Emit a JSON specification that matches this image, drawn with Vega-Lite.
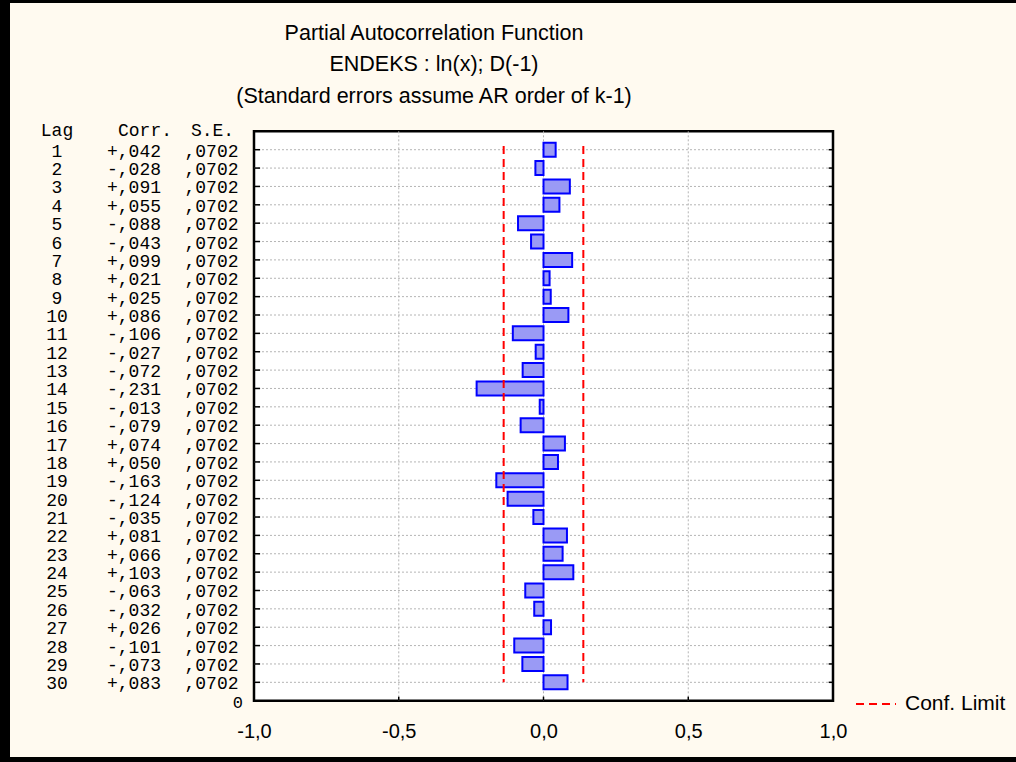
{
  "$schema": "https://vega.github.io/schema/vega-lite/v6.json",
  "width": 1016,
  "height": 762,
  "autosize": {"type": "fit", "contains": "padding"},
  "padding": {"left": 10, "top": 3, "right": 0, "bottom": 5},
  "background": "#000000",
  "config": {"view": {"fill": "#fffaf0", "stroke": null}},
  "datasets": {
    "pacf": [
      {"lag": 1, "corr": 0.042, "se": 0.0702},
      {"lag": 2, "corr": -0.028, "se": 0.0702},
      {"lag": 3, "corr": 0.091, "se": 0.0702},
      {"lag": 4, "corr": 0.055, "se": 0.0702},
      {"lag": 5, "corr": -0.088, "se": 0.0702},
      {"lag": 6, "corr": -0.043, "se": 0.0702},
      {"lag": 7, "corr": 0.099, "se": 0.0702},
      {"lag": 8, "corr": 0.021, "se": 0.0702},
      {"lag": 9, "corr": 0.025, "se": 0.0702},
      {"lag": 10, "corr": 0.086, "se": 0.0702},
      {"lag": 11, "corr": -0.106, "se": 0.0702},
      {"lag": 12, "corr": -0.027, "se": 0.0702},
      {"lag": 13, "corr": -0.072, "se": 0.0702},
      {"lag": 14, "corr": -0.231, "se": 0.0702},
      {"lag": 15, "corr": -0.013, "se": 0.0702},
      {"lag": 16, "corr": -0.079, "se": 0.0702},
      {"lag": 17, "corr": 0.074, "se": 0.0702},
      {"lag": 18, "corr": 0.050, "se": 0.0702},
      {"lag": 19, "corr": -0.163, "se": 0.0702},
      {"lag": 20, "corr": -0.124, "se": 0.0702},
      {"lag": 21, "corr": -0.035, "se": 0.0702},
      {"lag": 22, "corr": 0.081, "se": 0.0702},
      {"lag": 23, "corr": 0.066, "se": 0.0702},
      {"lag": 24, "corr": 0.103, "se": 0.0702},
      {"lag": 25, "corr": -0.063, "se": 0.0702},
      {"lag": 26, "corr": -0.032, "se": 0.0702},
      {"lag": 27, "corr": 0.026, "se": 0.0702},
      {"lag": 28, "corr": -0.101, "se": 0.0702},
      {"lag": 29, "corr": -0.073, "se": 0.0702},
      {"lag": 30, "corr": 0.083, "se": 0.0702}
    ],
    "limits": [
      {"limit": -0.1376, "series": "Conf. Limit"},
      {"limit": 0.1376, "series": "Conf. Limit"}
    ],
    "xticks": [{"v": -0.5}, {"v": 0}, {"v": 0.5}]
  },
  "layer": [
    {
      "data": {"values": [{}]},
      "mark": {"type": "rect", "fill": "#ffffff", "stroke": "#000000", "strokeWidth": 2.5},
      "encoding": {
        "x": {
          "datum": -1, "type": "quantitative",
          "scale": {"domain": [-1.84283, 1.63212], "nice": false, "zero": false},
          "axis": {
            "values": [-1, -0.5, 0, 0.5, 1],
            "labelExpr": "replace(replace(format(datum.value, '.1f'), '.', ','), '\u2212', '-')",
            "offset": -52, "domain": false, "ticks": false, "tickSize": 0, "grid": false,
            "labelPadding": 16, "labelFont": "Liberation Sans", "labelFontSize": 20,
            "labelColor": "#000000", "title": null, "labelFlush": false,
            "labelOverlap": false, "labelBound": false
          }
        },
        "x2": {"datum": 1},
        "y": {
          "datum": 0, "type": "quantitative",
          "scale": {"domain": [-6.7158, 33.7938], "nice": false, "zero": false, "reverse": true},
          "axis": null
        },
        "y2": {"datum": 31}
      }
    },
    {
      "data": {"name": "pacf"},
      "mark": {"type": "rule", "stroke": "#b4b4b4", "strokeWidth": 1, "strokeDash": [2, 2]},
      "encoding": {
        "y": {"field": "lag", "type": "quantitative"},
        "x": {"datum": -1},
        "x2": {"datum": 1}
      }
    },
    {
      "data": {"name": "xticks"},
      "mark": {"type": "rule", "stroke": "#b4b4b4", "strokeWidth": 1, "strokeDash": [2, 2]},
      "encoding": {
        "x": {"field": "v", "type": "quantitative"},
        "y": {"datum": 0},
        "y2": {"datum": 31}
      }
    },
    {
      "data": {"name": "pacf"},
      "mark": {"type": "rule", "stroke": "#000000", "strokeWidth": 1.5},
      "encoding": {
        "y": {"field": "lag", "type": "quantitative"},
        "x": {"datum": -1},
        "x2": {"datum": -0.979}
      }
    },
    {
      "data": {"name": "pacf"},
      "mark": {"type": "rule", "stroke": "#000000", "strokeWidth": 1.5},
      "encoding": {
        "y": {"field": "lag", "type": "quantitative"},
        "x": {"datum": 0.985},
        "x2": {"datum": 1}
      }
    },
    {
      "data": {"name": "xticks"},
      "mark": {"type": "rule", "stroke": "#000000", "strokeWidth": 1.5},
      "encoding": {
        "x": {"field": "v", "type": "quantitative"},
        "y": {"datum": 31},
        "y2": {"datum": 30.78}
      }
    },
    {
      "data": {"name": "pacf"},
      "mark": {"type": "bar", "orient": "horizontal", "size": 14, "fill": "#9a9af5", "stroke": "#0000ff", "strokeWidth": 2},
      "encoding": {
        "x": {"field": "corr", "type": "quantitative"},
        "x2": {"datum": 0},
        "y": {"field": "lag", "type": "quantitative"}
      }
    },
    {
      "data": {"name": "limits"},
      "mark": {"type": "rule", "strokeWidth": 2, "strokeDash": [8, 5]},
      "encoding": {
        "x": {"field": "limit", "type": "quantitative"},
        "y": {"datum": 0.8},
        "y2": {"datum": 30},
        "color": {
          "field": "series", "type": "nominal",
          "scale": {"domain": ["Conf. Limit"], "range": ["#ff0000"]},
          "legend": {
            "orient": "none", "legendX": 845, "legendY": 680, "title": null,
            "symbolType": "stroke", "symbolSize": 1600, "symbolStrokeWidth": 2,
            "symbolDash": [8, 5], "labelFont": "Liberation Sans", "labelFontSize": 21,
            "labelColor": "#000000", "labelOffset": 8, "padding": 0
          }
        }
      }
    },
    {
      "data": {"name": "pacf"},
      "mark": {"type": "text", "font": "Liberation Mono", "fontSize": 18, "align": "center", "baseline": "middle", "dy": 2, "color": "#000000"},
      "encoding": {
        "x": {"datum": -1.6805},
        "y": {"field": "lag", "type": "quantitative"},
        "text": {"field": "lag", "type": "quantitative"}
      }
    },
    {
      "data": {"name": "pacf"},
      "mark": {"type": "text", "font": "Liberation Mono", "fontSize": 18, "align": "center", "baseline": "middle", "dy": 2, "color": "#000000",
        "text": {"expr": "(datum.corr < 0 ? '-' : '+') + ',' + substring(format(abs(datum.corr), '.3f'), 2)"}},
      "encoding": {
        "x": {"datum": -1.4145},
        "y": {"field": "lag", "type": "quantitative"}
      }
    },
    {
      "data": {"name": "pacf"},
      "mark": {"type": "text", "font": "Liberation Mono", "fontSize": 18, "align": "center", "baseline": "middle", "dy": 2, "color": "#000000",
        "text": {"expr": "',' + substring(format(datum.se, '.4f'), 2)"}},
      "encoding": {
        "x": {"datum": -1.1468},
        "y": {"field": "lag", "type": "quantitative"}
      }
    },
    {
      "data": {"values": [{"label": "Lag"}]},
      "mark": {"type": "text", "font": "Liberation Mono", "fontSize": 18, "align": "center", "baseline": "middle", "dy": 0, "color": "#000000"},
      "encoding": {"x": {"datum": -1.6805}, "y": {"datum": 0}, "text": {"field": "label"}}
    },
    {
      "data": {"values": [{"label": "Corr."}]},
      "mark": {"type": "text", "font": "Liberation Mono", "fontSize": 18, "align": "center", "baseline": "middle", "dy": 0, "color": "#000000"},
      "encoding": {"x": {"datum": -1.3765}, "y": {"datum": 0}, "text": {"field": "label"}}
    },
    {
      "data": {"values": [{"label": "S.E."}]},
      "mark": {"type": "text", "font": "Liberation Mono", "fontSize": 18, "align": "center", "baseline": "middle", "dy": 0, "color": "#000000"},
      "encoding": {"x": {"datum": -1.1434}, "y": {"datum": 0}, "text": {"field": "label"}}
    },
    {
      "data": {"values": [{"label": "0"}]},
      "mark": {"type": "text", "font": "Liberation Mono", "fontSize": 17, "align": "right", "baseline": "middle", "dy": 3, "color": "#000000"},
      "encoding": {"x": {"datum": -1.038}, "y": {"datum": 30.95}, "text": {"field": "label"}}
    },
    {
      "data": {"values": [{"label": "Partial Autocorrelation Function"}]},
      "mark": {"type": "text", "font": "Liberation Sans", "fontSize": 21.5, "align": "center", "baseline": "middle", "color": "#000000"},
      "encoding": {"x": {"datum": -0.3782}, "y": {"datum": -5.31}, "text": {"field": "label"}}
    },
    {
      "data": {"values": [{"label": "ENDEKS  : ln(x); D(-1)"}]},
      "mark": {"type": "text", "font": "Liberation Sans", "fontSize": 21.5, "align": "center", "baseline": "middle", "color": "#000000"},
      "encoding": {"x": {"datum": -0.3782}, "y": {"datum": -3.6}, "text": {"field": "label"}}
    },
    {
      "data": {"values": [{"label": "(Standard errors assume AR order of k-1)"}]},
      "mark": {"type": "text", "font": "Liberation Sans", "fontSize": 21.5, "align": "center", "baseline": "middle", "color": "#000000"},
      "encoding": {"x": {"datum": -0.3782}, "y": {"datum": -1.85}, "text": {"field": "label"}}
    }
  ]
}
